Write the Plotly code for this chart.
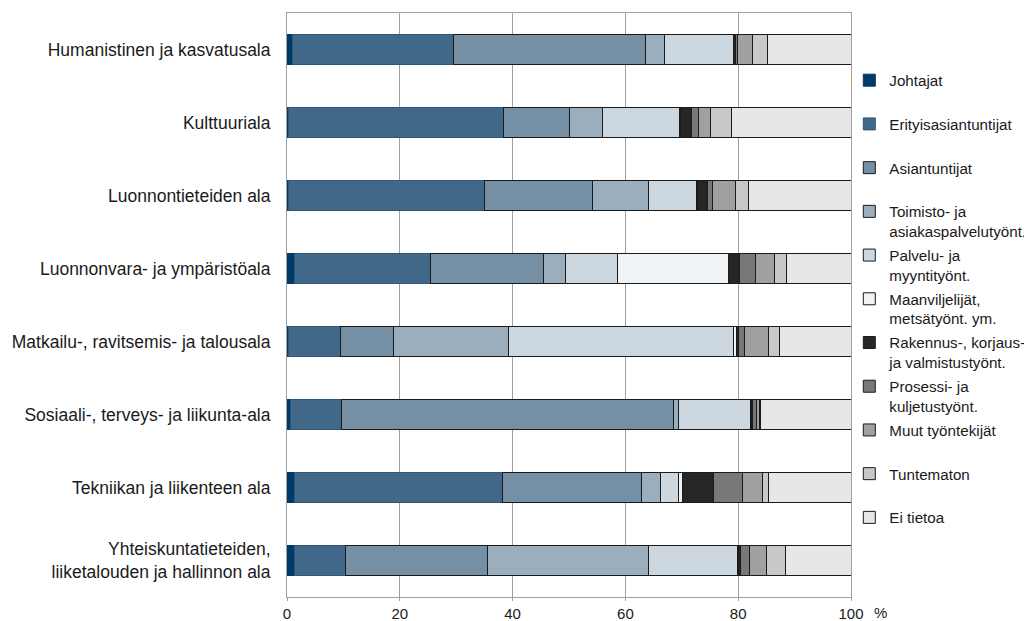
import plotly.graph_objects as go

categories = [
    "Humanistinen ja kasvatusala",
    "Kulttuuriala",
    "Luonnontieteiden ala",
    "Luonnonvara- ja ympäristöala",
    "Matkailu-, ravitsemis- ja talousala",
    "Sosiaali-, terveys- ja liikunta-ala",
    "Tekniikan ja liikenteen ala",
    "Yhteiskuntatieteiden,<br>liiketalouden ja hallinnon ala",
]

series_names = [
    "Johtajat",
    "Erityisasiantuntijat",
    "Asiantuntijat",
    "Toimisto- ja<br>asiakaspalvelutyönt.",
    "Palvelu- ja<br>myyntityönt.",
    "Maanviljelijät,<br>metsätyönt. ym.",
    "Rakennus-, korjaus-<br>ja valmistustyönt.",
    "Prosessi- ja<br>kuljetustyönt.",
    "Muut työntekijät",
    "Tuntematon",
    "Ei tietoa",
]

johtajat           = [1.0, 0.3, 0.3, 1.3, 0.2, 0.7, 1.3, 1.4]
erityisasiantunt   = [28.5, 38.1, 34.7, 24.1, 9.3, 9.0, 36.9, 9.0]
asiantuntijat      = [34.0, 11.6, 19.1, 20.0, 9.3, 58.8, 24.6, 25.2]
toimisto           = [3.5, 5.9, 10.0, 3.9, 20.5, 1.0, 3.4, 28.5]
palvelu            = [12.2, 13.7, 8.5, 9.3, 39.8, 12.7, 3.3, 15.8]
maanviljelijat     = [0.0, 0.2, 0.1, 19.6, 0.6, 0.1, 0.7, 0.2]
rakennus           = [0.4, 2.0, 1.9, 2.1, 0.4, 0.3, 5.5, 0.3]
prosessi           = [0.2, 1.1, 0.9, 2.8, 1.1, 0.7, 5.0, 1.6]
muut               = [2.8, 2.1, 4.0, 3.3, 4.2, 0.4, 3.6, 3.0]
tuntematon         = [2.6, 3.8, 2.3, 2.1, 1.9, 0.2, 1.1, 3.4]
ei_tietoa          = [14.8, 21.2, 18.2, 11.5, 12.7, 16.1, 14.6, 11.6]

values = [johtajat, erityisasiantunt, asiantuntijat, toimisto, palvelu,
          maanviljelijat, rakennus, prosessi, muut, tuntematon, ei_tietoa]

fill_colors = ["#003a68", "#416888", "#7590a5", "#9aaebe", "#cdd7e0", "#eff3f6",
               "#262626", "#78787a", "#a0a0a2", "#c8c8ca", "#e6e7e8"]
line_colors = ["#003a68", "#2f5778"] + ["#1a1a1a"] * 9

x_ticks = [0, 20, 40, 60, 80, 100]

fig = go.Figure()
for i, (name, vals) in enumerate(zip(series_names, values)):
    legend_name = name if "<br>" in name else name + "<br> "
    fig.add_trace(go.Bar(
        y=categories, x=vals, name=legend_name, orientation="h",
        marker=dict(color=fill_colors[i], line=dict(color=line_colors[i], width=1)),
        width=0.41, legendgroup="g%d" % i, hoverinfo="skip",
    ))

grid = "#a0a0a0"
fig.update_layout(
    barmode="stack",
    width=1024, height=613,
    margin=dict(l=279, r=181, t=5, b=24, pad=0, autoexpand=False),
    paper_bgcolor="white", plot_bgcolor="white",
    font=dict(family="Liberation Sans, Arial, sans-serif", color="#1a1a1a", size=15),
    showlegend=True,
    legend=dict(
        x=0.997, xanchor="left", y=0.913, yanchor="top",
        traceorder="grouped", tracegroupgap=1.2, valign="top",
        font=dict(size=15.2), bgcolor="rgba(0,0,0,0)",
    ),
    xaxis=dict(
        range=[0, 100], tickvals=x_ticks, ticktext=[str(t) for t in x_ticks],
        showgrid=True, gridcolor=grid, gridwidth=1,
        showline=True, linecolor=grid, linewidth=1, mirror=True,
        ticks="outside", ticklen=3, tickcolor=grid, zeroline=False,
        tickfont=dict(size=15),
    ),
    yaxis=dict(
        categoryorder="array", categoryarray=categories, autorange="reversed",
        showline=True, linecolor=grid, linewidth=1, mirror=True,
        ticks="", ticklabelstandoff=12, showgrid=False,
        tickfont=dict(size=17.5),
    ),
    annotations=[dict(
        text="%", xref="paper", yref="paper", x=1.052, y=-0.026,
        xanchor="center", yanchor="middle", showarrow=False, font=dict(size=15),
    )],
)

fig.write_html("out.html")
